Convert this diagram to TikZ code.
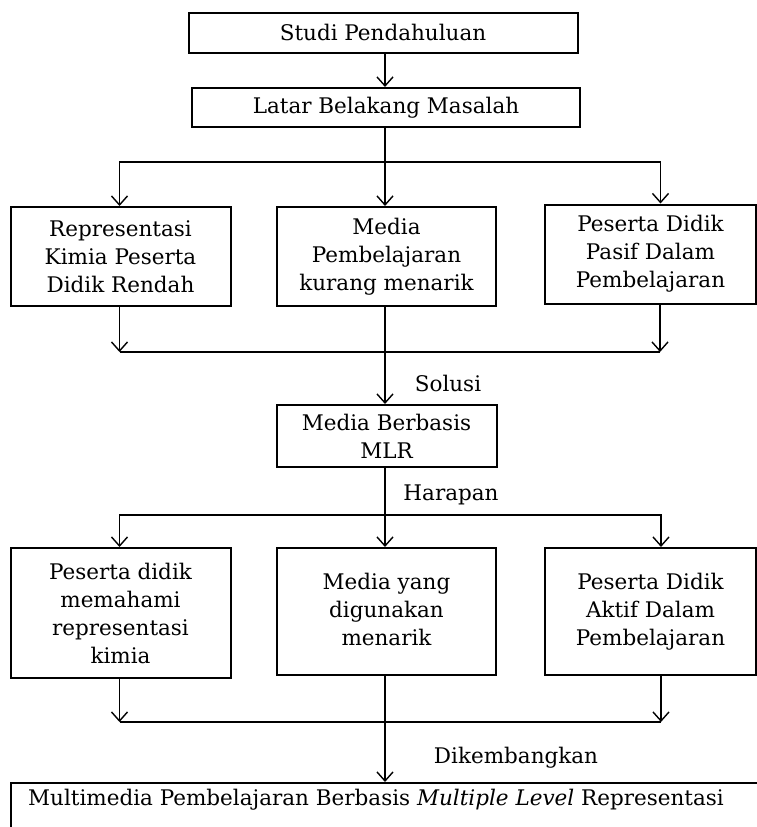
\documentclass[tikz,border=0pt]{standalone}
\usepackage{fontspec}
\setmainfont{DejaVu Serif}
\usetikzlibrary{arrows.meta}
\begin{document}
\begin{tikzpicture}[x=1pt,y=-1pt,
  box/.style={draw,line width=2pt,align=center,inner sep=0pt,font=\fontsize{21.5}{28}\selectfont},
  lbl/.style={font=\fontsize{21.5}{28}\selectfont,inner sep=0pt},
  con/.style={line width=1.5pt},
  arr/.style={con,-{Straight Barb[length=9pt,width=16pt,line width=1.4pt]}}]
\useasboundingbox (0,0) rectangle (757,827);
% nodes
\node[box,minimum width=389,minimum height=40] (studi) at (383,32.5) {Studi Pendahuluan};
\node[box,minimum width=388,minimum height=39] (latar) at (386,107.5) {Latar Belakang Masalah};
\node[box,minimum width=220,minimum height=99] (r1a) at (120.5,256.5) {Representasi\\Kimia Peserta\\Didik Rendah};
\node[box,minimum width=219,minimum height=99] (r1b) at (386.5,256.5) {Media\\Pembelajaran\\kurang menarik};
\node[box,minimum width=211,minimum height=99] (r1c) at (650.5,254) {Peserta Didik\\Pasif Dalam\\Pembelajaran};
\node[box,minimum width=220,minimum height=62] (mlr) at (386.5,436) {Media Berbasis\\MLR};
\node[box,minimum width=220,minimum height=130] (r2a) at (120.5,613) {Peserta didik\\memahami\\representasi\\kimia};
\node[box,minimum width=219,minimum height=127] (r2b) at (386.5,611.5) {\raisebox{6pt}{\begin{tabular}{@{}c@{}}Media yang\\digunakan\\menarik\end{tabular}}};
\node[box,minimum width=211,minimum height=127] (r2c) at (650.5,611.5) {\raisebox{6pt}{\begin{tabular}{@{}c@{}}Peserta Didik\\Aktif Dalam\\Pembelajaran\end{tabular}}};
\node[box,anchor=north west,minimum width=770,minimum height=70] (final) at (10,782) {};
\node[lbl,anchor=west] (finaltext) at (28,800) {Multimedia Pembelajaran Berbasis \textit{Multiple Level} Representasi};
% labels
\node[lbl] (solusi) at (448,383) {Solusi};
\node[lbl] (harapan) at (451,495) {Harapan};
\node[lbl] (dikemb) at (516,758) {Dikembangkan};
% junction coordinates
\coordinate (j1) at (385,162);
\coordinate (j2) at (385,352);
\coordinate (j3) at (385,515);
\coordinate (j4) at (385,722);
% connectors
\draw[arr] (studi.south -| j1) -- (latar.north -| j1);
\draw[arr] (latar.south -| j1) -- (r1b.north -| j1);
\draw[arr] (j1) -| ([xshift=-1pt]r1a.north);
\draw[arr] (j1) -| ([xshift=10pt]r1c.north);
\draw[arr] (r1a.south -| 119.5,0) -- (j2 -| 119.5,0);
\draw[arr] (r1c.south -| 660,0) -- (j2 -| 660,0);
\draw[con] (j2 -| 119.5,0) -- (j2 -| 660,0);
\draw[arr] (r1b.south -| j2) -- (mlr.north -| j2);
\draw[con] (mlr.south -| j3) -- (j3);
\draw[arr] (j3) -- (r2b.north -| j3);
\draw[arr] (j3) -| ([xshift=-1pt]r2a.north);
\draw[arr] (j3) -| ([xshift=10.5pt]r2c.north);
\draw[arr] (r2a.south -| 119.5,0) -- (j4 -| 119.5,0);
\draw[arr] (r2c.south -| 661,0) -- (j4 -| 661,0);
\draw[con] (j4 -| 119.5,0) -- (j4 -| 661,0);
\draw[arr] (r2b.south -| j4) -- (final.north -| j4);
\end{tikzpicture}
\end{document}
